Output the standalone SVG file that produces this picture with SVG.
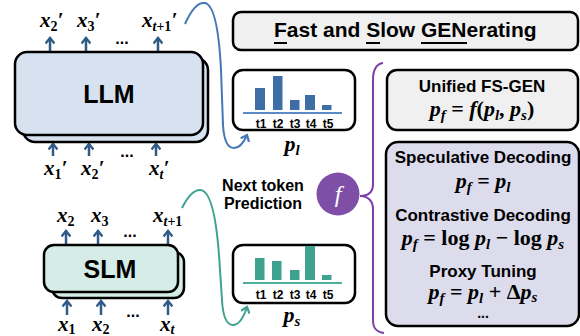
<svg xmlns="http://www.w3.org/2000/svg" width="580" height="336" viewBox="0 0 580 336">
<defs>
<style>
.sans{font-family:"Liberation Sans",Arial,sans-serif;font-weight:bold;fill:#000}
.m{font-family:"Liberation Serif","Times New Roman",serif;font-weight:bold;font-style:italic;fill:#000}
.up{font-style:normal}
.box{stroke:#000;stroke-width:2.5}
.io{stroke:#2f5b86;stroke-width:2.5;fill:none;marker-end:url(#ah)}
.tk{font-size:12px}
</style>
<marker id="ah" viewBox="0 0 10 10" refX="7.5" refY="5" markerWidth="10" markerHeight="10" markerUnits="userSpaceOnUse" orient="auto">
<path d="M2,0.5 L7.5,5 L2,9.5" fill="none" stroke="#2f5b86" stroke-width="2.4"/>
</marker>
<marker id="ahb" viewBox="0 0 10 10" refX="7.5" refY="5" markerWidth="10" markerHeight="10" markerUnits="userSpaceOnUse" orient="auto">
<path d="M2,0.5 L7.5,5 L2,9.5" fill="none" stroke="#4477b4" stroke-width="2.2"/>
</marker>
<marker id="aht" viewBox="0 0 10 10" refX="7.5" refY="5" markerWidth="10" markerHeight="10" markerUnits="userSpaceOnUse" orient="auto">
<path d="M2,0.5 L7.5,5 L2,9.5" fill="none" stroke="#3fa28f" stroke-width="2.2"/>
</marker>
</defs>
<rect width="580" height="336" fill="#fff"/>

<g id="connectors">
<path class="io" d="M50,52 V38"/>
<path class="io" d="M86,52 V38"/>
<path class="io" d="M158,52 V38"/>
<path class="io" d="M53,156 V144"/>
<path class="io" d="M89,156 V144"/>
<path class="io" d="M156,156 V144"/>
<path class="io" d="M66,245 V231"/>
<path class="io" d="M98,245 V231"/>
<path class="io" d="M168,245 V231"/>
<path class="io" d="M67,315 V301"/>
<path class="io" d="M101,315 V301"/>
<path class="io" d="M168,315 V301"/>
<path d="M185,24 C192,8 199,2 205,3 C214,5 219,30 221,70 L223,125 C224,142 228,148 234,148 C240,148 244,142 247,135" fill="none" stroke="#4477b4" stroke-width="2" marker-end="url(#ahb)"/>
<path d="M182,208 C188,196 194,190 200,190 C210,190 216,215 219,255 L222,300 C223,318 227,325 233,325 C239,325 244,316 247,307" fill="none" stroke="#3fa28f" stroke-width="2" marker-end="url(#aht)"/>
<path d="M383,63 C376,64 373,70 373,80 L373,184 C373,192 368,196 360,196 C368,196 373,201 373,209 L373,320 C373,328 376,332 384,333" fill="none" stroke="#7a3fa8" stroke-width="2"/>
</g>

<g id="llm">
<rect x="23" y="58" width="185" height="84" rx="12" fill="#d6e2ef" class="box"/>
<rect x="15" y="52" width="188" height="83" rx="12" fill="#d6e2ef" class="box"/>
<text class="sans" x="109" y="103" font-size="25" text-anchor="middle">LLM</text>
</g>

<g id="llm-out">
<text class="m" x="40" y="27" font-size="21">x<tspan class="up" font-size="14" dy="4">2</tspan><tspan dy="-4">′</tspan></text>
<text class="m" x="77" y="27" font-size="21">x<tspan class="up" font-size="14" dy="4">3</tspan><tspan dy="-4">′</tspan></text>
<text class="sans" x="122" y="44" font-size="16" text-anchor="middle">...</text>
<text class="m" x="142" y="27" font-size="21">x<tspan font-size="14" dy="4">t</tspan><tspan class="up" font-size="14">+1</tspan><tspan dy="-4">′</tspan></text>
</g>

<g id="llm-in">
<text class="m" x="44" y="175" font-size="21">x<tspan class="up" font-size="14" dy="4">1</tspan><tspan dy="-4">′</tspan></text>
<text class="m" x="81" y="175" font-size="21">x<tspan class="up" font-size="14" dy="4">2</tspan><tspan dy="-4">′</tspan></text>
<text class="sans" x="127" y="157" font-size="16" text-anchor="middle">...</text>
<text class="m" x="149" y="175" font-size="21">x<tspan font-size="14" dy="4">t</tspan><tspan dy="-4">′</tspan></text>
</g>

<g id="slm">
<rect x="52" y="252" width="132" height="46" rx="10" fill="#d5ece7" class="box"/>
<rect x="44" y="245" width="134" height="47" rx="10" fill="#d5ece7" class="box"/>
<text class="sans" x="110" y="278" font-size="25" text-anchor="middle">SLM</text>
</g>

<g id="slm-out">
<text class="m" x="57" y="222" font-size="21">x<tspan class="up" font-size="14" dy="4">2</tspan></text>
<text class="m" x="91" y="222" font-size="21">x<tspan class="up" font-size="14" dy="4">3</tspan></text>
<text class="sans" x="130" y="237" font-size="16" text-anchor="middle">...</text>
<text class="m" x="153" y="222" font-size="21">x<tspan font-size="14" dy="4">t</tspan><tspan class="up" font-size="14">+1</tspan></text>
</g>

<g id="slm-in">
<text class="m" x="58" y="331" font-size="21">x<tspan class="up" font-size="14" dy="3">1</tspan></text>
<text class="m" x="92" y="331" font-size="21">x<tspan class="up" font-size="14" dy="3">2</tspan></text>
<text class="sans" x="133" y="317" font-size="16" text-anchor="middle">...</text>
<text class="m" x="160" y="331" font-size="21">x<tspan font-size="14" dy="3">t</tspan></text>
</g>

<g id="title">
<rect x="233" y="12" width="345" height="38" rx="8" fill="#f0f0f0" class="box"/>
<text class="sans" x="274" y="37" font-size="21">Fast and Slow GENerating</text>
<path d="M274,43 H287 M366,43 H380 M421,43 H467" stroke="#000" stroke-width="2"/>
</g>

<g id="pl">
<rect x="233" y="70" width="122" height="60" rx="10" fill="#fff" class="box"/>
<g fill="#3d6ea6">
<rect x="255" y="88" width="10" height="22"/>
<rect x="273" y="76" width="9.5" height="34"/>
<rect x="290" y="100" width="9.5" height="10"/>
<rect x="305" y="95" width="10" height="15"/>
<rect x="322" y="105" width="9.5" height="5"/>
</g>
<path d="M243,113 H342" stroke="#5b8bc4" stroke-width="2"/>
<g class="sans tk" text-anchor="middle">
<text x="261" y="128">t1</text><text x="278" y="128">t2</text><text x="295" y="128">t3</text><text x="311" y="128">t4</text><text x="328" y="128">t5</text>
</g>
<text class="m" x="292" y="151" font-size="22" text-anchor="middle">p<tspan font-size="15" dy="4">l</tspan></text>
</g>

<g id="ps">
<rect x="233" y="245" width="122" height="58" rx="10" fill="#fff" class="box"/>
<g fill="#3fa28f">
<rect x="255" y="258" width="9.5" height="22"/>
<rect x="272" y="261" width="9.5" height="19"/>
<rect x="290" y="270" width="9.5" height="10"/>
<rect x="305" y="246" width="10" height="34"/>
<rect x="322" y="275" width="9.5" height="5"/>
</g>
<path d="M243,283 H342" stroke="#4fb09c" stroke-width="2"/>
<g class="sans tk" text-anchor="middle">
<text x="261" y="299">t1</text><text x="278" y="299">t2</text><text x="295" y="299">t3</text><text x="311" y="299">t4</text><text x="328" y="299">t5</text>
</g>
<text class="m" x="292" y="322" font-size="22" text-anchor="middle">p<tspan font-size="15" dy="4">s</tspan></text>
</g>

<g id="next-token">
<text class="sans" x="263" y="191" font-size="16" text-anchor="middle">Next token</text>
<text class="sans" x="263" y="209" font-size="16" text-anchor="middle">Prediction</text>
</g>

<g id="f-node">
<circle cx="338" cy="194" r="21.5" fill="#7f4fa8"/>
<text class="m" x="338" y="202" font-size="24" text-anchor="middle" style="fill:#fff;font-weight:normal">f</text>
</g>

<g id="unified">
<rect x="387" y="70" width="191" height="60" rx="10" fill="#f0f0f0" class="box"/>
<text class="sans" x="482" y="92" font-size="17" text-anchor="middle">Unified FS-GEN</text>
<text class="m" x="482" y="116" font-size="22" text-anchor="middle">p<tspan font-size="15" dy="4">f</tspan><tspan class="up" dy="-4"> = </tspan>f<tspan class="up">(</tspan>p<tspan font-size="15" dy="4">l</tspan><tspan class="up" dy="-4">, </tspan>p<tspan font-size="15" dy="4">s</tspan><tspan class="up" dy="-4">)</tspan></text>
</g>

<g id="methods">
<rect x="386" y="142" width="193" height="184" rx="12" fill="#dcdcec" class="box"/>
<text class="sans" x="483" y="163" font-size="17" text-anchor="middle">Speculative Decoding</text>
<text class="m" x="483" y="188" font-size="22" text-anchor="middle">p<tspan font-size="15" dy="4">f</tspan><tspan class="up" dy="-4"> = </tspan>p<tspan font-size="15" dy="4">l</tspan></text>
<text class="sans" x="483" y="221" font-size="17" text-anchor="middle">Contrastive Decoding</text>
<text class="m" x="483" y="245" font-size="22" text-anchor="middle">p<tspan font-size="15" dy="4">f</tspan><tspan class="up" dy="-4"> = log </tspan>p<tspan font-size="15" dy="4">l</tspan><tspan class="up" dy="-4"> − log </tspan>p<tspan font-size="15" dy="4">s</tspan></text>
<text class="sans" x="483" y="277" font-size="17" text-anchor="middle">Proxy Tuning</text>
<text class="m" x="483" y="299" font-size="22" text-anchor="middle">p<tspan font-size="15" dy="4">f</tspan><tspan class="up" dy="-4"> = </tspan>p<tspan font-size="15" dy="4">l</tspan><tspan class="up" dy="-4"> + Δ</tspan>p<tspan font-size="15" dy="3">s</tspan></text>
<text class="sans" x="483" y="318" font-size="14" text-anchor="middle">...</text>
</g>
</svg>
